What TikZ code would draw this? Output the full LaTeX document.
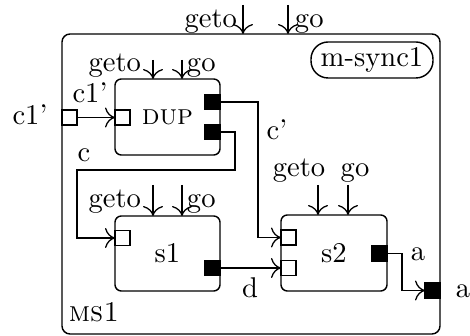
\documentclass[tikz,border=0pt]{standalone}
\usetikzlibrary{arrows.meta}
\begin{document}
\begin{tikzpicture}[x=0.35pt,y=-0.35pt,
  every node/.style={inner sep=0pt, outer sep=0pt},
  box/.style={draw, rounded corners=2.2pt, line width=0.5pt},
  inport/.style={draw, fill=white, minimum size=5.25pt, line width=0.45pt},
  outport/.style={draw, fill=black, minimum size=5.25pt, line width=0.45pt},
  conn/.style={line width=0.45pt},
  arr/.style={conn, -{To[length=3.5pt,width=7pt]}}
]
\useasboundingbox (0,0) rectangle (470,336);
% boxes
\node[box, rounded corners=2.8pt, minimum width=132.3pt, minimum height=105pt] (ms) at (251,184) {};
\node[box, minimum width=36.75pt, minimum height=26.6pt] (dup) at (167.5,117) {\textsc{dup}};
\node[box, minimum width=36.75pt, minimum height=26.25pt] (s1) at (167.5,253.5) {s1};
\node[box, minimum width=37.1pt, minimum height=26.6pt] (s2) at (334,253) {s2};
\node[draw, line width=0.5pt, rounded corners=6pt, minimum width=42.7pt, minimum height=12.6pt] (sync) at (372,60) {m-sync1};
% ports
\node[inport] (opin) at (69.5,117.5) {};
\node[inport] (dupin) at (122.5,117.5) {};
\node[outport] (dupo1) at (212.5,102) {};
\node[outport] (dupo2) at (212.5,132) {};
\node[inport] (s1in) at (122.5,238) {};
\node[outport] (s1o) at (212.5,268) {};
\node[inport] (s2in1) at (288.5,237.5) {};
\node[inport] (s2in2) at (288.5,268) {};
\node[outport] (s2o) at (379.5,253.5) {};
\node[outport] (opout) at (432.5,290.5) {};
% connectors
\draw[arr] (opin.east) -- (dupin.west);
\draw[arr] (dupo1.east) -- ++(38,0) |- (s2in1.west);
\coordinate (cA) at (235,170);
\coordinate (cB) at (77,170);
\draw[arr] (dupo2.east) -| (cA) -- (cB) |- (s1in.west);
\draw[arr] (s1o.east) -- (s2in2.west);
\draw[arr] (s2o.east) -- ++(15,0) |- (opout.west);
% control arrows
\coordinate (tg1) at (243,5);
\coordinate (tg2) at (288,5);
\draw[arr] (tg1) -- (tg1 |- ms.north);
\draw[arr] (tg2) -- (tg2 |- ms.north);
\coordinate (dg1) at (153,60);
\coordinate (dg2) at (182,60);
\draw[arr] (dg1) -- (dg1 |- dup.north);
\draw[arr] (dg2) -- (dg2 |- dup.north);
\coordinate (sg1) at (153,185);
\coordinate (sg2) at (182,185);
\draw[arr] (sg1) -- (sg1 |- s1.north);
\draw[arr] (sg2) -- (sg2 |- s1.north);
\coordinate (tg3) at (318,185);
\coordinate (tg4) at (348,185);
\draw[arr] (tg3) -- (tg3 |- s2.north);
\draw[arr] (tg4) -- (tg4 |- s2.north);
% labels
\node[anchor=base east] (lg1) at (237,28) {geto};
\node[anchor=base west] (lg2) at (295,28) {go};
\node[anchor=base east] (ldg1) at (141,72) {geto};
\node[anchor=base west] (ldg2) at (187,72) {go};
\node[anchor=base east] (lsg1) at (141,208) {geto};
\node[anchor=base west] (lsg2) at (187,208) {go};
\node[anchor=base] (ls2g1) at (299,177) {geto};
\node[anchor=base] (ls2g2) at (355,177) {go};
\node[anchor=base] (lc1a) at (30,125) {c1'};
\node[anchor=base] (lc1b) at (90,103) {c1'};
\node[anchor=base] (lc) at (84,162) {c};
\node[anchor=base] (lcp) at (277,140) {c'};
\node[anchor=base] (ld) at (250,298) {d};
\node[anchor=base] (la1) at (418,261) {a};
\node[anchor=base] (la2) at (463,298) {a};
\node[anchor=base] (lms) at (94,322) {\textsc{ms1}};
\end{tikzpicture}
\end{document}
